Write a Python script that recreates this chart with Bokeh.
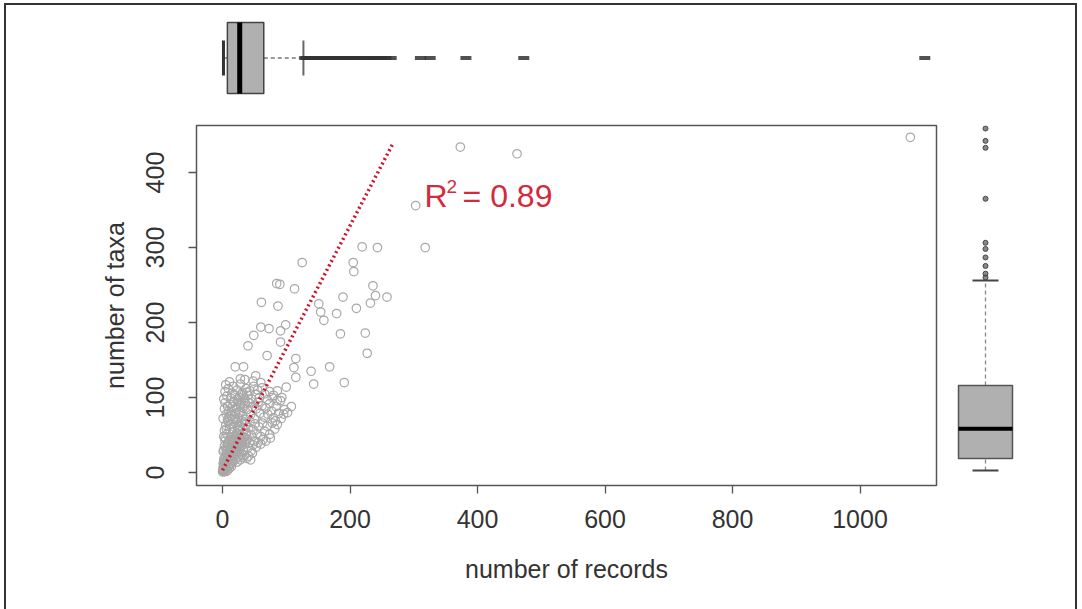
from bokeh.plotting import figure
from bokeh.layouts import column, row
from bokeh.models import Range1d, FixedTicker, Label
from bokeh.embed import file_html
from bokeh.resources import INLINE

# ---------------- data ----------------
records = [373, 462, 303, 318, 219, 243, 125, 205, 206, 85, 90, 113, 236, 61, 87, 189, 240, 258,
           232, 210, 151, 154, 159, 179, 60, 73, 91, 99, 49, 91, 185, 224, 227, 40, 70, 115, 20, 33,
           112, 139, 168, 115, 143, 191, 100, 28, 52, 86, 91, 78, 96, 83, 1079,
           1, 2, 3, 4, 5, 6, 8, 9, 11, 12, 3, 7, 14, 2,
           1, 2, 4, 5, 7, 8, 10, 12, 14, 15, 17, 19, 21, 23, 25, 28, 30, 32, 35, 38, 41, 44,
           1, 3, 4, 6, 8, 10, 11, 13, 15, 17, 18, 20, 22, 24, 26, 27, 29, 31, 33, 35, 37, 40, 42, 45,
           48, 50, 53, 56, 60, 64, 68, 47,
           2, 3, 5, 7, 9, 11, 13, 14, 16, 18, 20, 22, 24, 26, 28, 30, 32, 34, 36, 38, 41, 43, 45, 48,
           51, 54, 57, 60, 63, 66, 70, 74, 78, 82, 75, 86,
           1, 3, 4, 6, 8, 10, 12, 14, 16, 18, 20, 22, 25, 27, 29, 31, 34, 36, 39, 42, 44, 47, 50, 53,
           56, 59, 62, 65, 68, 71, 74, 77, 80, 84, 88, 92, 97, 102, 108,
           2, 4, 5, 7, 9, 11, 13, 15, 17, 20, 23, 26, 28, 31, 34, 37, 40, 43, 46, 49, 52, 55, 58, 62,
           66, 70, 74, 80, 86, 93, 48, 35, 60,
           0, 1, 1, 2, 2, 3, 3, 4, 4, 5, 5, 6, 6, 7, 7, 8, 8, 9, 9, 10, 10,
           11, 12, 13, 14, 15, 16, 17, 18, 19, 20, 21, 22, 23, 24, 25, 26, 27, 28, 29, 30,
           2, 4, 6, 8, 10, 12, 14, 16, 18, 20, 22, 24, 26, 28, 30, 32, 34, 36, 38, 40,
           1, 3, 5, 7, 9, 11, 13, 15, 17, 19, 21, 23, 25, 27, 29, 31, 33, 35, 37, 39]
taxa = [434, 425, 356, 300, 301, 300, 280, 280, 268, 252, 251, 245, 249, 227, 222, 234, 236, 234,
        226, 219, 225, 214, 203, 212, 194, 192, 189, 197, 183, 174, 185, 186, 159, 169, 156, 152, 141, 141,
        140, 135, 141, 127, 118, 120, 114, 125, 129, 109, 96, 100, 78, 69, 447,
        2, 5, 3, 8, 4, 6, 3, 9, 6, 10, 1, 2, 8, 9,
        12, 18, 15, 22, 14, 20, 17, 24, 13, 19, 15, 22, 18, 14, 21, 17, 24, 20, 23, 19, 22, 17,
        28, 35, 42, 30, 38, 27, 44, 33, 40, 28, 36, 43, 31, 38, 27, 44, 35, 41, 30, 38, 44, 33, 40, 29,
        37, 42, 34, 40, 38, 44, 42, 26,
        48, 56, 63, 51, 68, 58, 47, 65, 54, 61, 49, 67, 56, 63, 50, 69, 58, 47, 64, 53, 60, 68, 50, 57,
        65, 52, 61, 48, 66, 55, 62, 51, 66, 58, 46, 64,
        72, 85, 93, 78, 88, 74, 91, 82, 71, 94, 79, 87, 73, 92, 81, 76, 89, 71, 84, 93, 77, 88, 72, 85,
        94, 79, 89, 74, 86, 78, 92, 82, 73, 88, 79, 72, 84, 80, 88,
        98, 108, 117, 102, 112, 121, 99, 106, 115, 103, 110, 100, 118, 106, 96, 112, 103, 109, 98, 115,
        104, 110, 100, 113, 105, 97, 108, 103, 96, 100, 122, 124, 120,
        1, 3, 6, 4, 10, 7, 14, 9, 18, 12, 22, 15, 26, 11, 30, 19, 34, 16, 38, 23, 42,
        20, 27, 31, 25, 36, 29, 40, 33, 45, 37, 41, 48, 35, 52, 44, 57, 39, 61, 47, 66,
        30, 46, 58, 70, 82, 64, 76, 88, 95, 71, 84, 97, 80, 90, 104, 86, 99, 92, 107, 94,
        5, 9, 13, 17, 21, 11, 28, 24, 32, 26, 35, 30, 39, 33, 43, 37, 47, 41, 51, 45]

# regression line (fitted coefficients, drawn over the fitted span)
fit_intercept = 3.0
fit_slope = 1.63
fit_x_span = [0, 267]
r2_base, r2_sup, r2_rest = "R", "2", "= 0.89"

x_ticks = [0, 200, 400, 600, 800, 1000]
y_ticks = [0, 100, 200, 300, 400]

# boxplot statistics of number of records (top margin)
rec_min, rec_q1, rec_med, rec_q3, rec_hi = 0, 6, 25, 62, 123
rec_outliers = [125, 128, 132, 136, 139, 143, 147, 151, 154, 159, 164, 168, 173, 179, 185, 189, 191,
                196, 205, 206, 210, 219, 224, 227, 232, 236, 240, 243, 250, 258, 303, 318, 373, 462, 1079]

# boxplot statistics of number of taxa (right margin)
tax_min, tax_q1, tax_med, tax_q3, tax_hi = 3, 18.5, 57, 113, 249
tax_outliers = [253, 258, 268, 279, 290, 298, 355, 421, 430, 446]

# ---------------- styles ----------------
FONT = "Liberation Sans"
TXT = "#333333"
PT = "#a8a8a8"
RED = "#d42a3c"
LINERED = "#c8182e"
BOXFILL = "#b0b0b0"

# ---------------- scatter ----------------
p = figure(width=939, height=509, x_range=Range1d(-40.8, 1120), y_range=Range1d(-17.3, 462.7),
           output_backend="svg", toolbar_location=None,
           min_border_left=190, min_border_right=9, min_border_top=25, min_border_bottom=124)
p.grid.visible = False
p.outline_line_color = "#555555"
p.outline_line_width = 1.5
p.background_fill_color = "white"
p.border_fill_color = "white"

for ax in (p.xaxis[0], p.yaxis[0]):
    ax.axis_line_color = None
    ax.major_tick_in = 0
    ax.major_tick_out = 8
    ax.major_tick_line_color = "#555555"
    ax.major_tick_line_width = 1.3
    ax.minor_tick_line_color = None
    ax.major_label_text_font = FONT
    ax.major_label_text_font_size = "25px"
    ax.major_label_text_color = TXT
    ax.axis_label_text_font = FONT
    ax.axis_label_text_font_size = "25px"
    ax.axis_label_text_font_style = "normal"
    ax.axis_label_text_color = TXT

p.xaxis.ticker = FixedTicker(ticks=x_ticks)
p.yaxis.ticker = FixedTicker(ticks=y_ticks)
p.xaxis.axis_label = "number of records"
p.yaxis.axis_label = "number of taxa"
p.xaxis.major_label_standoff = 16
p.xaxis.axis_label_standoff = 24
p.yaxis.major_label_orientation = "vertical"
p.yaxis.major_label_standoff = 24
p.yaxis.axis_label_standoff = 15

p.scatter(records, taxa, marker="circle", size=8.5, fill_color=None,
          line_color=PT, line_width=1.2)

line_y = [fit_intercept + fit_slope * v for v in fit_x_span]
p.line(fit_x_span, line_y, line_color=LINERED, line_width=3.5, line_dash="2 3")

lbl_x, lbl_y = 317, 369
p.add_layout(Label(x=lbl_x, y=lbl_y, text=r2_base, text_baseline="middle",
                   text_font=FONT, text_font_size="32px", text_color=RED))
p.add_layout(Label(x=lbl_x, y=lbl_y, x_offset=22, y_offset=9, text=r2_sup, text_baseline="middle",
                   text_font=FONT, text_font_size="19px", text_color=RED))
p.add_layout(Label(x=lbl_x, y=lbl_y, x_offset=38, text=r2_rest, text_baseline="middle",
                   text_font=FONT, text_font_size="32px", text_color=RED))

# ---------------- top boxplot (records) ----------------
t = figure(width=1069, height=95, x_range=Range1d(-41.5, 1097), y_range=Range1d(0, 1),
           output_backend="svg", toolbar_location=None, x_axis_type=None, y_axis_type=None,
           min_border_left=190, min_border_right=139, min_border_top=10, min_border_bottom=0)
t.grid.visible = False
t.outline_line_color = None
t.segment(x0=[rec_min, rec_q3], y0=[0.5, 0.5], x1=[rec_q1, rec_hi], y1=[0.5, 0.5],
          line_color="#777777", line_width=1.5, line_dash="4 3")
t.segment(x0=[rec_min], y0=[0.294], x1=[rec_min], y1=[0.706], line_color="#333333", line_width=3)
t.segment(x0=[rec_hi], y0=[0.294], x1=[rec_hi], y1=[0.706], line_color="#666666", line_width=2)
t.quad(left=[rec_q1], right=[rec_q3], bottom=[0.082], top=[0.918],
       fill_color=BOXFILL, line_color="#444444", line_width=1.5)
t.segment(x0=[rec_med], y0=[0.082], x1=[rec_med], y1=[0.918], line_color="black", line_width=5)
t.rect(x=rec_outliers, y=[0.5] * len(rec_outliers), width=11, height=4,
       width_units="screen", height_units="screen", fill_color="#333333", line_color=None, fill_alpha=0.85)

# ---------------- right boxplot (taxa) ----------------
r = figure(width=130, height=509, x_range=Range1d(0, 1), y_range=Range1d(-16.4, 449.9),
           output_backend="svg", toolbar_location=None, x_axis_type=None, y_axis_type=None,
           min_border_left=0, min_border_right=50, min_border_top=25, min_border_bottom=124)
r.grid.visible = False
r.outline_line_color = None
r.segment(x0=[0.5, 0.5], y0=[tax_min, tax_q3], x1=[0.5, 0.5], y1=[tax_q1, tax_hi],
          line_color="#888888", line_width=1.3, line_dash="4 3")
r.segment(x0=[0.3375, 0.3375], y0=[tax_min, tax_hi], x1=[0.6625, 0.6625], y1=[tax_min, tax_hi],
          line_color="#444444", line_width=2)
r.quad(left=[0.1625], right=[0.8375], bottom=[tax_q1], top=[tax_q3],
       fill_color=BOXFILL, line_color="#555555", line_width=1.5)
r.segment(x0=[0.1625], y0=[tax_med], x1=[0.8375], y1=[tax_med], line_color="black", line_width=4)
r.scatter(x=[0.5] * len(tax_outliers), y=tax_outliers, marker="circle", size=5,
          fill_color="#555555", line_color="#444444", fill_alpha=0.7)

layout = column(t, row(p, r), styles={"border-top": "2px solid #333", "border-left": "2px solid #333",
                                      "border-right": "2px solid #333", "background": "white",
                                      "margin-left": "4px", "margin-top": "3px"})

open("out.html", "w").write(file_html(layout, INLINE))
